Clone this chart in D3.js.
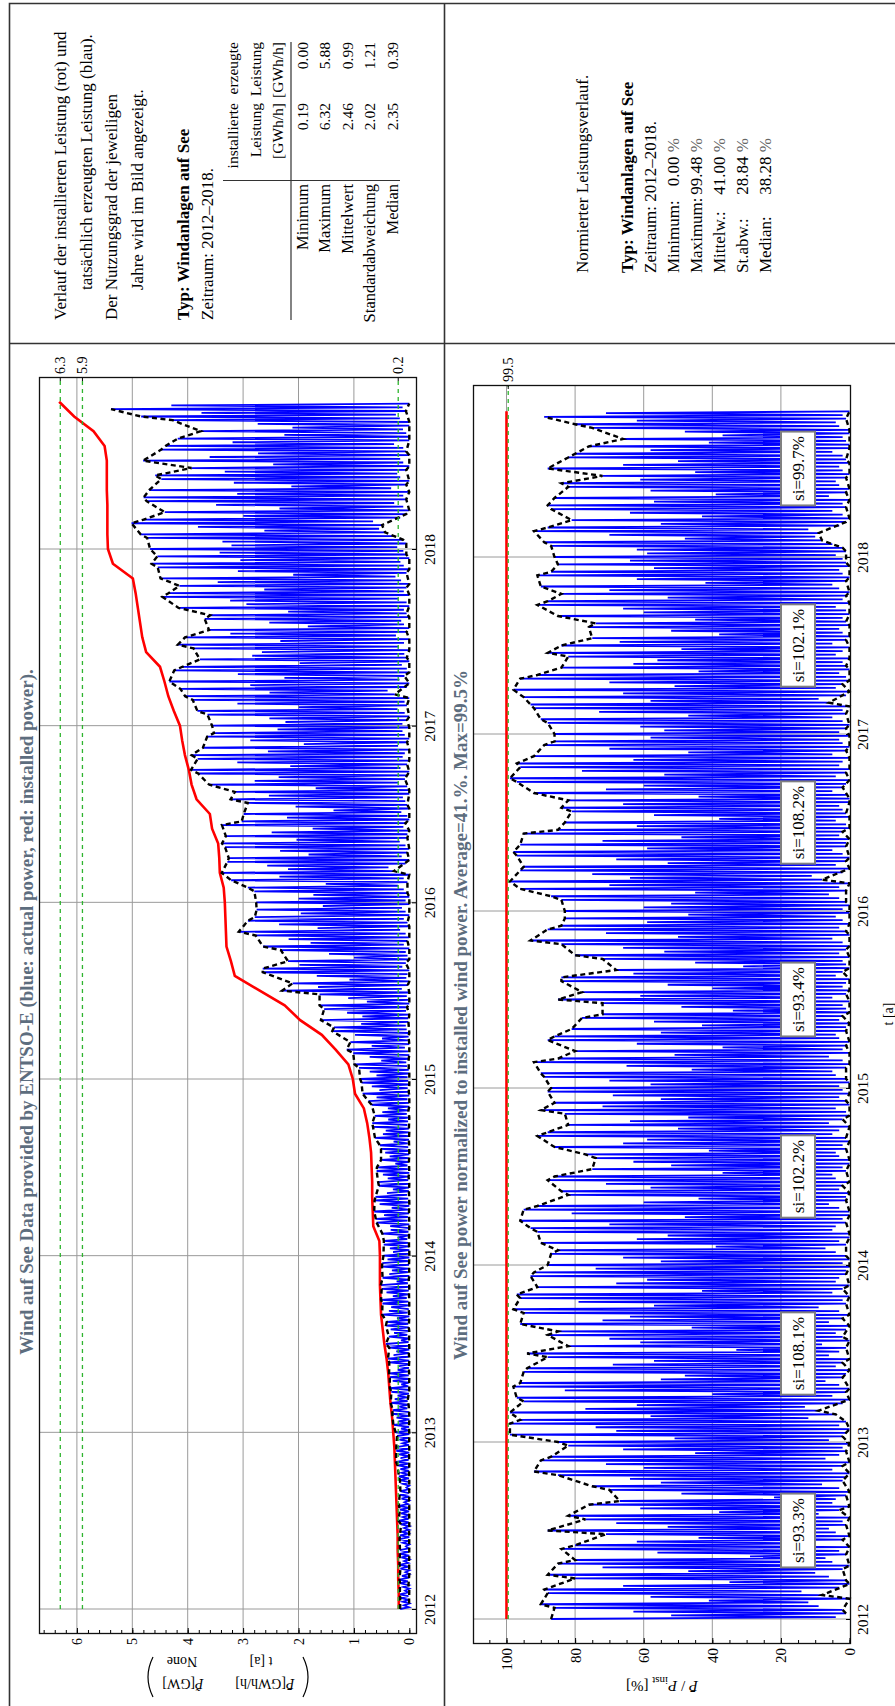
<!DOCTYPE html>
<html>
<head>
<meta charset="utf-8">
<script src="https://cdn.jsdelivr.net/npm/d3@7"></script>
<style>
  body { margin: 0; background: #fff; }
  svg text { font-family: "Liberation Serif", "Times New Roman", serif; }
</style>
</head>
<body>
<svg id="chart" width="895" height="1706"></svg>
<script>
// ---------------- data ----------------
const years = [2012, 2013, 2014, 2015, 2016, 2017, 2018];

// installed offshore capacity at the start of each month, Jan 2012 .. Nov 2018 [GW]
const installed = [
  0.19, 0.19, 0.20, 0.20, 0.21, 0.21, 0.22, 0.23, 0.24, 0.25, 0.26, 0.27,
  0.29, 0.31, 0.34, 0.36, 0.38, 0.41, 0.45, 0.48, 0.51, 0.52, 0.53, 0.53,
  0.53, 0.54, 0.65, 0.66, 0.67, 0.67, 0.68, 0.69, 0.72, 0.76, 0.82, 0.98,
  1.02, 1.10, 1.33, 1.58, 1.97, 2.25, 2.70, 3.15, 3.22, 3.30, 3.31, 3.32,
  3.33, 3.35, 3.42, 3.43, 3.45, 3.56, 3.60, 3.84, 3.93, 3.98, 4.05, 4.10,
  4.14, 4.25, 4.35, 4.42, 4.50, 4.75, 4.82, 4.86, 4.90, 4.94, 4.99, 5.35,
  5.44, 5.45, 5.45, 5.45, 5.46, 5.46, 5.46, 5.50, 5.70, 6.05, 6.32
];

// actual power normalized to installed power [%], four samples per half month
const pct2012 = [
  87,4,52,1, 63,2,86,9, 90,12,41,0, 58,8,88,14, 89,3,66,0, 35,1,80,6,
  88,10,47,2, 72,0,85,5, 80,7,29,1, 56,3,84,0, 80,11,62,2, 44,0,71,4,
  88,6,53,1, 68,2,77,0, 82,9,38,3, 61,0,76,5, 67,4,22,1, 49,0,70,3,
  75,8,55,2, 64,1,85,0, 92,5,60,2, 71,0,90,7, 87,3,45,1, 66,2,82,0
];
const pct2013 = [
  85,6,51,2, 99,1,68,0, 74,3,99,1, 96,12,58,4, 99,9,77,13, 62,2,95,0,
  97,5,40,1, 83,0,98,3, 96,7,55,2, 48,1,95,0, 94,4,69,2, 57,0,88,6,
  94,3,33,1, 82,8,61,0, 70,2,88,4, 85,1,46,0, 96,6,72,2, 64,0,95,3,
  98,9,57,1, 79,2,96,0, 97,5,43,2, 91,0,68,4, 59,3,93,1, 92,1,74,0
];
const pct2014 = [
  88,2,55,0, 66,1,87,4, 85,7,39,1, 90,3,62,0, 53,0,91,5, 93,4,70,1,
  96,2,48,0, 81,0,95,3, 91,6,60,1, 44,1,82,0, 84,3,58,2, 71,0,88,4,
  86,5,37,1, 75,2,52,0, 63,0,74,3, 77,4,41,1, 86,2,66,0, 59,1,91,5,
  88,3,50,0, 82,6,64,2, 47,0,83,1, 90,4,72,0, 86,1,55,3, 69,0,88,2
];
const pct2015 = [
  87,3,58,0, 70,1,89,4, 90,5,46,1, 65,0,92,2, 85,6,51,0, 80,2,37,1,
  62,0,88,3, 86,4,55,1, 81,1,43,0, 57,3,78,2, 72,0,34,1, 49,2,72,0,
  85,5,61,1, 78,0,40,2, 53,1,84,0, 84,4,63,2, 68,0,31,1, 45,2,72,0,
  80,3,54,1, 66,0,84,2, 93,5,50,0, 71,1,88,3, 84,0,59,2, 83,4,47,0
];
const pct2016 = [
  83,2,60,0, 52,1,84,3, 87,6,45,1, 96,3,70,0, 99,8,64,11, 75,2,96,0,
  95,4,53,1, 68,0,97,2, 98,5,59,1, 96,1,72,0, 49,3,95,2, 85,0,62,1,
  83,4,38,0, 57,1,81,2, 84,3,66,0, 82,0,44,1, 92,5,71,2, 60,1,97,0,
  99,4,54,1, 78,0,96,3, 97,2,63,0, 92,5,47,1, 70,0,89,2, 86,3,58,0
];
const pct2017 = [
  86,3,54,1, 61,0,88,2, 90,5,47,1, 73,2,92,0, 93,6,58,9, 95,1,66,0,
  98,4,51,2, 70,0,96,1, 91,3,44,0, 84,1,63,2, 56,0,82,4, 88,2,49,0,
  84,5,67,1, 75,0,38,2, 52,3,76,0, 74,1,45,2, 85,0,60,1, 66,4,91,0,
  88,2,53,1, 84,0,70,3, 90,5,42,1, 62,0,91,2, 87,3,57,0, 85,1,64,2
];
const pct2018 = [
  86,4,59,1, 62,2,87,5, 89,8,48,10, 70,9,92,12, 88,3,55,1, 81,0,43,2,
  64,5,87,1, 88,2,57,0, 86,6,39,1, 58,0,82,3, 84,4,61,1, 72,0,45,2,
  88,3,66,0, 50,1,82,2, 80,5,58,0, 76,0,41,1, 66,2,37,0, 48,0,75,3,
  80,4,62,1, 89,2,71,0
];

const siValues = ["93.3", "108.1", "102.2", "93.4", "108.2", "102.1", "99.7"];
const topRefLines = [6.3, 5.9, 0.2];
const botRefLines = [99.5];

const statRows = ["Minimum", "Maximum", "Mittelwert", "Standardabweichung", "Median"];
const statInstalled = ["0.19", "6.32", "2.46", "2.02", "2.35"];
const statProduced = ["0.00", "5.88", "0.99", "1.21", "0.39"];
const normRows = ["Minimum:", "Maximum:", "Mittelw.:", "St.abw.:", "Median:"];
const normValues = ["0.00", "99.48", "41.00", "28.84", "38.28"];

// ---------------- derived series ----------------
const pctByYear = [pct2012, pct2013, pct2014, pct2015, pct2016, pct2017, pct2018];
let samples = [];
pctByYear.forEach(function(arr, k) {
    arr.forEach(function(v, i) {
        samples.push({t: years[k] + i / 96, pct: v});
    });
});
samples.forEach(function(d) {
    let m = Math.min(installed.length - 1, Math.floor((d.t - 2012) * 12 + 1e-9));
    d.gw = d.pct / 100 * installed[m];
});
// half-month max / min (black dashed lines)
let hiPts = [], loPts = [];
for (let g = 0; g < samples.length; g += 4) {
    let grp = samples.slice(g, g + 4);
    hiPts.push(grp.reduce((a, b) => b.pct > a.pct ? b : a));
    loPts.push(grp.reduce((a, b) => b.pct < a.pct ? b : a));
}
let installedPts = installed.map((v, m) => ({t: 2012 + m / 12, gw: v}));
let tStart = samples[0].t, tEnd = samples[samples.length - 1].t;

// ---------------- layout ----------------
const svg = d3.select("#chart");
const TITLE = "#5d6d7e";

// text reading bottom to top
function vtext(parent, x, y, str, anchor, size, weight) {
    return parent.append("text")
        .attr("transform", "translate(" + x + "," + y + ") rotate(-90)")
        .attr("text-anchor", anchor || "start")
        .attr("font-size", size || 17)
        .attr("font-weight", weight || "normal")
        .text(str);
}
// upside-down text
function ftext(parent, x, y, anchor, size) {
    return parent.append("text")
        .attr("transform", "translate(" + x + "," + y + ") rotate(180)")
        .attr("text-anchor", anchor || "middle")
        .attr("font-size", size || 14);
}

// outer table
svg.append("path")
    .attr("d", "M9.5,1706 V3.5 H895 M444.5,3.5 V1706 M9.5,343.5 H895")
    .attr("fill", "none").attr("stroke", "#333").attr("stroke-width", 1.6);

// ---- left info cell ----
let info = svg.append("g");
vtext(info, 66, 320, "Verlauf der installierten Leistung (rot) und");
vtext(info, 92, 290, "tatsächlich erzeugten Leistung (blau).");
vtext(info, 117, 320, "Der Nutzungsgrad der jeweiligen");
vtext(info, 143, 290, "Jahre wird im Bild angezeigt.");
vtext(info, 189, 320, "Typ: Windanlagen auf See", "start", 17, "bold");
vtext(info, 213, 320, "Zeitraum: 2012–2018.");

vtext(info, 238, 103, "installierte", "end", 15.5);
vtext(info, 238, 42, "erzeugte", "end", 15.5);
vtext(info, 261, 103, "Leistung", "end", 15.5);
vtext(info, 261, 42, "Leistung", "end", 15.5);
vtext(info, 283, 103, "[GWh/h]", "end", 15.5);
vtext(info, 283, 42, "[GWh/h]", "end", 15.5);
const rowBase = [308, 330, 353, 375, 398];
statRows.forEach(function(r, i) {
    vtext(info, rowBase[i], 184, r, "end", 16.5);
    vtext(info, rowBase[i], 103, statInstalled[i], "end", 15.5);
    vtext(info, rowBase[i], 42, statProduced[i], "end", 15.5);
});
info.append("path")
    .attr("d", "M291,42 V320 M223,180.5 H400")
    .attr("stroke", "#333").attr("stroke-width", 1.2).attr("fill", "none");

// ---- right info cell ----
let info2 = svg.append("g");
vtext(info2, 588, 273, "Normierter Leistungsverlauf.");
vtext(info2, 633, 273, "Typ: Windanlagen auf See", "start", 17, "bold");
vtext(info2, 656, 273, "Zeitraum: 2012–2018.");
const normBase = [679, 702, 725, 748, 771];
normRows.forEach(function(r, i) {
    vtext(info2, normBase[i], 273, r);
    let t = vtext(info2, normBase[i], 138, normValues[i], "end");
    t.append("tspan").attr("fill", "#666").text(" %");
});

// ---------------- top plot ----------------
const T = {x0: 39, x1: 416, y0: 377, y1: 1633};
const xTop = d3.scaleLinear().domain([0, 6]).range([409.3, 76.9]);
const yTop = d3.scaleLinear().domain([2012, 2018]).range([1609, 549]);

// ---------------- bottom plot ----------------
const B = {x0: 473, x1: 850, y0: 385, y1: 1643};
const xBot = d3.scaleLinear().domain([0, 100]).range([849.5, 506.5]);
const yBot = d3.scaleLinear().domain([2012, 2018]).range([1619, 557]);

function drawPlot(F, xs, ys, cfg) {
    let g = svg.append("g");

    // grid
    g.selectAll("line.vg").data(cfg.grid).enter().append("line")
        .attr("x1", d => xs(d)).attr("x2", d => xs(d))
        .attr("y1", F.y0).attr("y2", F.y1)
        .attr("stroke", "#9a9a9a").attr("stroke-width", 1);
    g.selectAll("line.hg").data(years).enter().append("line")
        .attr("y1", d => ys(d)).attr("y2", d => ys(d))
        .attr("x1", F.x0).attr("x2", F.x1)
        .attr("stroke", "#9a9a9a").attr("stroke-width", 1);

    // blue actual power
    g.append("path").datum(samples)
        .attr("d", d3.line().x(d => xs(cfg.val(d))).y(d => ys(d.t)))
        .attr("fill", "none").attr("stroke", "#0000ff").attr("stroke-width", 1.8);

    // red installed
    g.append("path").datum(cfg.red)
        .attr("d", d3.line().x(d => xs(d.v)).y(d => ys(d.t)))
        .attr("fill", "none").attr("stroke", "#ff0000").attr("stroke-width", 2.6);

    // black dashed envelopes
    [hiPts, loPts].forEach(function(pts) {
        g.append("path").datum(pts)
            .attr("d", d3.line().x(d => xs(cfg.val(d))).y(d => ys(d.t)))
            .attr("fill", "none").attr("stroke", "#000")
            .attr("stroke-width", 2.4).attr("stroke-dasharray", "5,3.5");
    });

    // green reference lines
    cfg.refs.forEach(function(r) {
        g.append("line")
            .attr("x1", xs(r)).attr("x2", xs(r))
            .attr("y1", ys(tStart)).attr("y2", F.y0)
            .attr("stroke", "#2fb52f").attr("stroke-width", 1.3)
            .attr("stroke-dasharray", "4,4");
        g.append("line")
            .attr("x1", xs(r)).attr("x2", xs(r))
            .attr("y1", F.y0).attr("y2", F.y0 + 4)
            .attr("stroke", "#000").attr("stroke-width", 1);
        vtext(g, xs(r), F.y0 - 3, String(r), "start", 14)
            .attr("dominant-baseline", "central");
    });

    // frame
    g.append("rect")
        .attr("x", F.x0 + 0.5).attr("y", F.y0 + 0.5)
        .attr("width", F.x1 - F.x0).attr("height", F.y1 - F.y0)
        .attr("fill", "none").attr("stroke", "#111").attr("stroke-width", 1.3);

    // value axis (along the bottom of the frame)
    let minor = g.append("g").attr("transform", "translate(0," + F.y1 + ")")
        .call(d3.axisBottom(xs).tickValues(cfg.minor).tickSize(-3).tickFormat(""));
    minor.select(".domain").remove();
    let major = g.append("g").attr("transform", "translate(0," + F.y1 + ")")
        .call(d3.axisBottom(xs).tickValues(cfg.major).tickSize(-5).tickSizeOuter(0)
            .tickFormat(d3.format("d")));
    major.select(".domain").remove();
    [minor, major].forEach(a => a.attr("font-family", null).attr("font-size", null));
    major.selectAll("text")
        .attr("y", null).attr("dy", null)
        .attr("transform", "translate(0,5) rotate(-90)")
        .attr("text-anchor", "end")
        .attr("dominant-baseline", "central")
        .attr("font-size", cfg.labelSize)
        .attr("fill", "#000");

    // time axis (right edge)
    let ax = g.append("g").attr("transform", "translate(" + F.x1 + ",0)")
        .call(d3.axisRight(ys).tickValues(years).tickSize(-4).tickSizeOuter(0).tickFormat(d3.format("d")));
    ax.select(".domain").remove();
    ax.attr("font-family", null).attr("font-size", null);
    ax.selectAll("text")
        .attr("x", null).attr("dy", null)
        .attr("transform", "translate(" + cfg.yearOff + ",0) rotate(-90)")
        .attr("text-anchor", "middle")
        .attr("font-size", 15.5)
        .attr("fill", "#000");
    return g;
}

let gTop = drawPlot(T, xTop, yTop, {
    grid: d3.range(1, 7),
    major: d3.range(0, 7),
    minor: d3.range(0, 34).map(i => i * 0.2),
    val: d => d.gw,
    red: installedPts.map(d => ({t: d.t, v: d.gw})),
    refs: topRefLines,
    labelSize: 14,
    yearOff: 19
});

let gBot = drawPlot(B, xBot, yBot, {
    grid: d3.range(20, 101, 20),
    major: d3.range(0, 101, 20),
    minor: d3.range(0, 110, 5),
    val: d => d.pct,
    red: [{t: tStart, v: 100}, {t: tEnd, v: 100}],
    refs: botRefLines,
    labelSize: 15,
    yearOff: 18
});

// si labels
years.forEach(function(yr, k) {
    let cy = yBot(yr + 0.5);
    let box = gBot.append("rect");
    let t = vtext(gBot, 804, cy, "si=" + siValues[k] + "%", "middle", 17);
    let L = t.node().getComputedTextLength();
    box.attr("x", 781).attr("width", 34)
        .attr("y", cy - L / 2 - 4.5).attr("height", L + 9)
        .attr("fill", "#fff").attr("stroke", "#808080").attr("stroke-width", 2);
});

// titles
vtext(svg, 33, 1012, "Wind auf See Data provided by ENTSO-E (blue: actual power, red: installed power).", "middle", 19, "bold")
    .attr("fill", TITLE);
vtext(svg, 467, 1015, "Wind auf See power normalized to installed wind power. Average=41.%. Max=99.5%", "middle", 19, "bold")
    .attr("fill", TITLE);
vtext(svg, 893, 1014, "t [a]", "middle", 14);

// top axis label (upside down matrix)
let lab = svg.append("g");
let r1 = ftext(lab, 265, 1679, "middle", 14);
r1.append("tspan").attr("font-style", "italic").text("P\u0304");
r1.append("tspan").text("[GWh/h]");
let r2 = ftext(lab, 183, 1679, "middle", 14);
r2.append("tspan").attr("font-style", "italic").text("P\u0303");
r2.append("tspan").text("[GW]");
ftext(lab, 261, 1657, "middle", 14).text("t [a]");
ftext(lab, 182, 1657, "middle", 14).text("None");
lab.append("path")
    .attr("d", "M153,1657 Q143,1677 153,1697 M303,1657 Q313,1677 303,1697")
    .attr("fill", "none").attr("stroke", "#000").attr("stroke-width", 1.2);

// bottom axis label
let bl = ftext(svg, 662, 1681, "middle", 15);
bl.append("tspan").attr("font-style", "italic").text("P\u0304");
bl.append("tspan").text(" / ");
bl.append("tspan").attr("font-style", "italic").text("P");
bl.append("tspan").attr("font-size", 11).attr("dy", 4).text("inst");
bl.append("tspan").attr("dy", -4).text(" [%]");
</script>
</body>
</html>
